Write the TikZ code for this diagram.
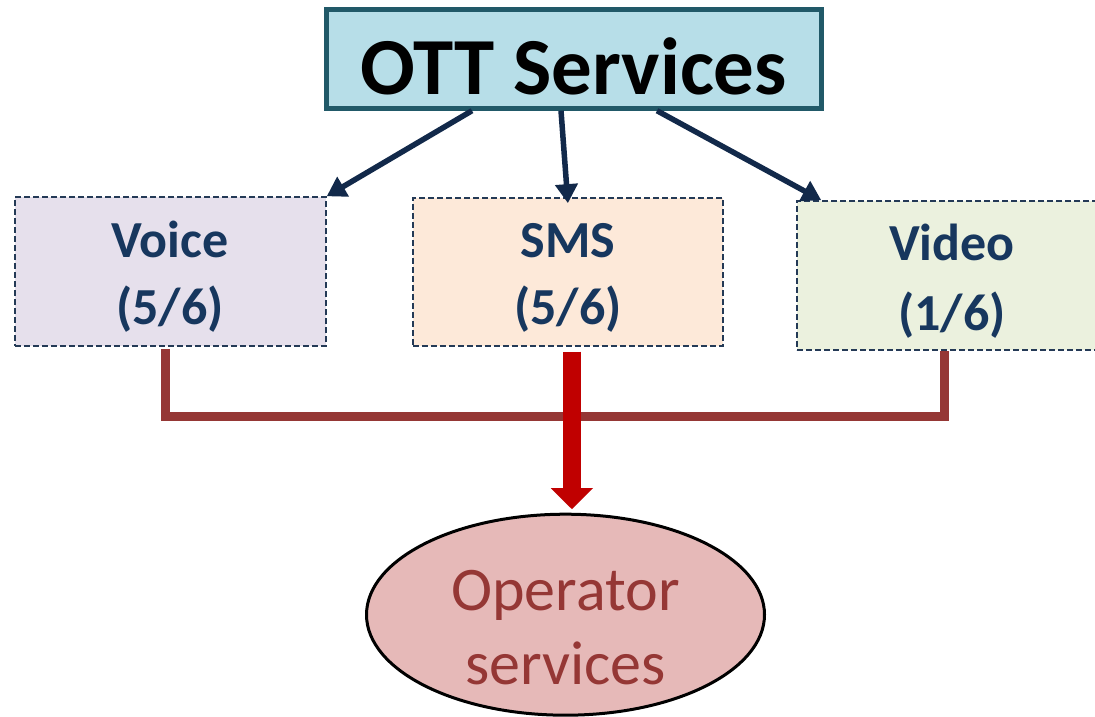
\documentclass[tikz,border=0pt]{standalone}
\usepackage{fontspec}
\setmainfont{Carlito}
\usetikzlibrary{arrows.meta,shapes.geometric,calc}
\definecolor{ottfill}{HTML}{B7DEE8}
\definecolor{ottdraw}{HTML}{215968}
\definecolor{navytxt}{HTML}{17375E}
\definecolor{navyarrow}{HTML}{12294A}
\definecolor{dashdraw}{HTML}{243A56}
\definecolor{voicefill}{HTML}{E6E0EC}
\definecolor{smsfill}{HTML}{FDE9D9}
\definecolor{videofill}{HTML}{EBF1DE}
\definecolor{brownline}{HTML}{953735}
\definecolor{redarrow}{HTML}{C00000}
\definecolor{opfill}{HTML}{E6B9B8}
\begin{document}
\begin{tikzpicture}[x=1pt,y=-1pt,
  ottbox/.style={draw=ottdraw, fill=ottfill, line width=5pt, minimum width=495pt, minimum height=98.4pt,
    inner sep=0pt, font=\fontsize{81}{81}\selectfont\bfseries, text height=70pt, text depth=0pt},
  catbox/.style={draw=dashdraw, line width=1.5pt, dash pattern=on 6pt off 3pt, minimum width=310pt,
    minimum height=148pt, inner sep=0pt},
  cattext/.style={inner sep=0pt, align=center, text=navytxt, font=\fontsize{52}{67}\selectfont\bfseries},
  navyarr/.style={draw=navyarrow, line width=5.5pt, -{Triangle[length=19pt,width=22pt]}},
  brownconn/.style={draw=brownline, line width=9.5pt, line join=miter},
  redarr/.style={draw=redarrow, line width=17.7pt, -{Triangle[length=21pt,width=41pt]}},
  opshape/.style={ellipse, draw=black, line width=3pt, fill=opfill, minimum width=398pt, minimum height=201pt, inner sep=0pt},
  optext/.style={inner sep=0pt, align=center, text=brownline, font=\fontsize{62}{74}\selectfont}
]
\useasboundingbox (0,0) rectangle (1095,717);

\node[ottbox] (ott) at (574,59) {OTT Services};

\node[catbox, fill=voicefill, minimum width=311pt, minimum height=149pt] (voice) at (170.5,271.5) {};
\node[catbox, fill=smsfill] (sms) at (567.9,271.9) {};
\node[catbox, fill=videofill, minimum height=149pt] (video) at (952,275.4) {};

\node[cattext] (voicet) at (170,276.7) {Voice\\(5/6)};
\node[cattext] (smst) at (568,278) {SMS\\(5/6)};
\node[cattext, font=\fontsize{52}{70}\selectfont\bfseries] (videot) at (952,281) {Video\\(1/6)};

\node[opshape] (op) at (565.5,614.7) {};
\node[optext] (opt) at (565.5,627.5) {Operator\\services};

\draw[navyarr] ($(ott.south)+(-102,0)$) -- (voice.north east);
\draw[navyarr] ($(ott.south)+(-13,0)$) -- ($(sms.north)+(0,6)$);
\draw[navyarr] ($(ott.south)+(83,0)$) -- ($(video.north west)+(25,0)$);

\draw[brownconn] ($(voice.south)+(-5,2)$) |- ($(video.south)+(-7.5,66)$) -- ($(video.south)+(-7.5,0)$);

\coordinate (redstart) at ($(sms.south)+(4,5)$);
\draw[redarr, shorten >=3.5pt] (redstart) -- (redstart |- op.north);
\end{tikzpicture}
\end{document}
